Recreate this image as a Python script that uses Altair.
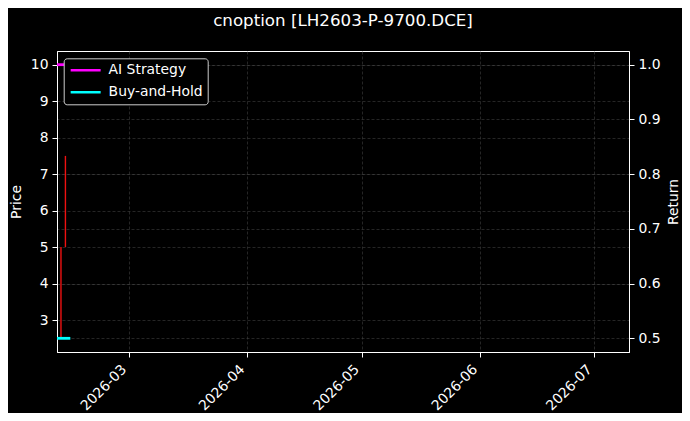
import altair as alt
import pandas as pd

# ---- data ----
candle_dates = ["2026-02-11T04:00:00Z", "2026-02-12T08:00:00Z"]
candle_low = [2.5, 5.0]
candle_high = [5.0, 7.5]

line_dates = ["2026-02-09T00:00:00Z", "2026-02-13T06:00:00Z"]
ai_strategy = [1.0, 1.0]
buy_and_hold = [0.5, 0.5]

series_names = ["AI Strategy", "Buy-and-Hold"]
series_colors = ["#ff00ff", "#00ffff"]

price_ticks = [3, 4, 5, 6, 7, 8, 9, 10]
return_ticks = [0.5, 0.6, 0.7, 0.8, 0.9, 1.0]
month_ticks = [3, 4, 5, 6, 7]

title_text = "cnoption [LH2603-P-9700.DCE]"

# ---- tables ----
candle_df = pd.DataFrame({"date": candle_dates, "low": candle_low, "high": candle_high})
line_df = pd.DataFrame({
    "date": line_dates * 2,
    "ret": ai_strategy + buy_and_hold,
    "series": [series_names[0]] * len(line_dates) + [series_names[1]] * len(line_dates),
})

FONT = "DejaVu Sans"
GRID = dict(grid=True, gridColor="#4a4a4a", gridDash=[3, 2], gridWidth=0.5)
COMMON = dict(labelColor="white", tickColor="white", domainColor="white",
              titleColor="white", labelFont=FONT, titleFont=FONT,
              labelFontSize=13.9, titleFontSize=13.9, titleFontWeight="normal",
              tickSize=5)

xscale = alt.Scale(
    type="utc",
    domain=[alt.DateTime(year=2026, month=2, date=10, hours=3, utc=True),
            alt.DateTime(year=2026, month=7, date=10, hours=2, utc=True)],
    nice=False,
)
xaxis = alt.Axis(
    title=None,
    values=[alt.DateTime(year=2026, month=m, date=1, utc=True) for m in month_ticks],
    format="%Y-%m", labelAngle=315, labelAlign="right", labelBaseline="middle",
    labelPadding=10, labelOffset=-5,
    **GRID, **COMMON,
)

candles = alt.Chart(candle_df).mark_rule(color="#ee1111", strokeWidth=1.4).encode(
    x=alt.X("date:T", scale=xscale, axis=xaxis),
    y=alt.Y("low:Q",
            scale=alt.Scale(domain=[2.125, 10.375], nice=False, zero=False),
            axis=alt.Axis(title="Price", values=price_ticks, format="d",
                          titlePadding=7, labelPadding=4, **GRID, **COMMON)),
    y2="high:Q",
)

lines = alt.Chart(line_df).mark_line(strokeWidth=2.8, clip=True, strokeCap="square").encode(
    x=alt.X("date:T", scale=xscale, axis=xaxis),
    y=alt.Y("ret:Q",
            scale=alt.Scale(domain=[0.475, 1.025], nice=False, zero=False),
            axis=alt.Axis(title="Return", orient="right", values=return_ticks,
                          format=".1f", titleAngle=270, titleBaseline="top",
                          titlePadding=6, labelPadding=4, **GRID, **COMMON)),
    color=alt.Color("series:N",
                    scale=alt.Scale(domain=series_names, range=series_colors),
                    legend=alt.Legend(
                        title=None, orient="none", legendX=6.7, legendY=7.3,
                        symbolType="M-1,0H5", symbolSize=100, symbolStrokeWidth=2.5,
                        labelFont=FONT, labelFontSize=13.9, labelColor="white",
                        labelOffset=26, fillColor="#000000", strokeColor="#cccccc",
                        cornerRadius=3, padding=5, rowPadding=7)),
    detail="series:N",
)

chart = (
    alt.layer(candles, lines)
    .resolve_scale(y="independent")
    .properties(
        width=572, height=301,
        title=alt.TitleParams(title_text, font=FONT, fontSize=16.7, fontWeight="normal",
                              color="white", anchor="middle", offset=21),
        autosize=alt.AutoSizeParams(type="none"),
        padding={"left": 49, "top": 43, "right": 53, "bottom": 61},
        background="black",
    )
    .configure_view(stroke="white", strokeWidth=1, fill="black")
)

chart.save("out.html", embed_options={"renderer": "svg", "actions": False})
